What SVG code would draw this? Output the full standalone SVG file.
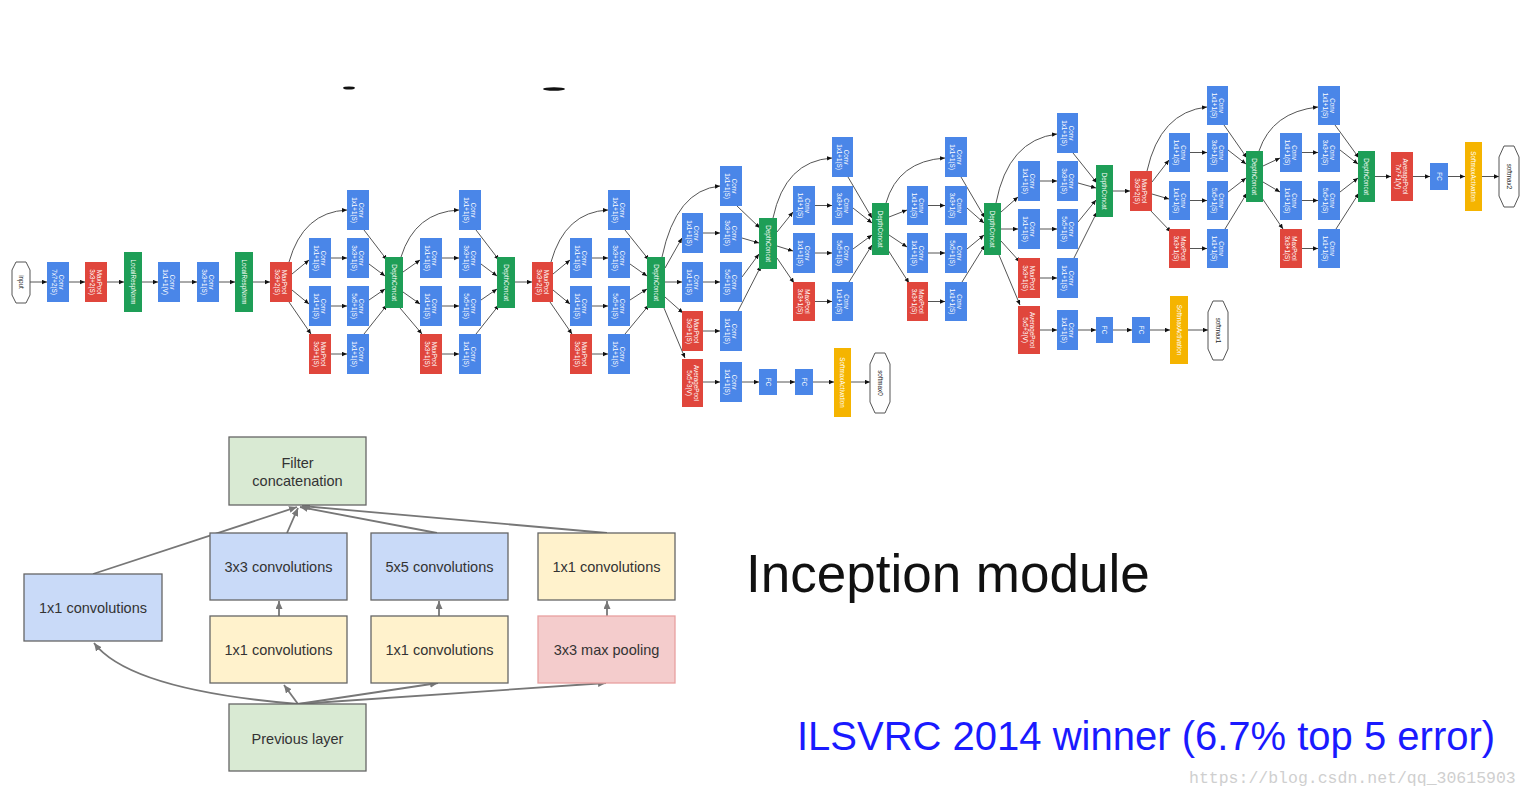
<svg xmlns="http://www.w3.org/2000/svg" width="1530" height="798" viewBox="0 0 1530 798">
<style>
.c{fill:#4a86e8}.m{fill:#e0463c}.d{fill:#1e9e57}.y{fill:#f5b400}
.o{fill:#fff;stroke:#555;stroke-width:1}
.t{font-family:"Liberation Sans",Arial,sans-serif;font-size:6.3px;fill:#fff;text-anchor:middle}
.k{font-family:"Liberation Sans",Arial,sans-serif;font-size:6.3px;fill:#222;text-anchor:middle}
.e path{fill:none;stroke:#555;stroke-width:1;marker-end:url(#a)}
.b rect{stroke:#666;stroke-width:1.3}
.bt{font-family:"Liberation Sans",Arial,sans-serif;font-size:14.5px;fill:#333;text-anchor:middle}
.g{fill:#d9ead3}.bl{fill:#c9daf8}.yl{fill:#fff2cc}.rd{fill:#f4cccc}
.f path{fill:none;stroke:#777;stroke-width:1.8;marker-end:url(#a2)}
</style>
<defs>
<marker id="a" markerUnits="userSpaceOnUse" markerWidth="6" markerHeight="5" refX="5" refY="2.2" orient="auto"><path d="M0,0 L5,2.2 L0,4.4 z" fill="#111"/></marker>
<marker id="a2" markerUnits="userSpaceOnUse" markerWidth="9" markerHeight="8" refX="8" refY="3.5" orient="auto"><path d="M0,0 L8,3.5 L0,7 z" fill="#777"/></marker>
</defs>
<rect width="1530" height="798" fill="#fff"/>
<ellipse cx="349" cy="88" rx="6" ry="1.6" fill="#111"/>
<ellipse cx="554" cy="89" rx="11" ry="1.8" fill="#111"/>

<g id="connectors" class="e">
<path d="M30,282 H47"/><path d="M69,282 H85"/><path d="M107,282 H124"/><path d="M142,282 H158"/><path d="M180,282 H197"/><path d="M219,282 H235"/><path d="M253,282 H270"/>
<!-- 3a -->
<path d="M289,262 Q303,212 347,210"/><path d="M292,274 L309,260"/><path d="M292,290 L309,304"/><path d="M289,302 L311,334"/>
<path d="M331,258 H347"/><path d="M331,306 H347"/><path d="M331,354 H347"/>
<path d="M364,230 L387,260"/><path d="M369,264 L385,276"/><path d="M369,300 L385,289"/><path d="M364,334 L387,305"/>
<!-- 3b -->
<path d="M401,257 Q415,212 459,210"/><path d="M403,272 L420,260"/><path d="M403,292 L420,304"/><path d="M400,308 L422,334"/>
<path d="M442,258 H459"/><path d="M442,306 H459"/><path d="M442,354 H459"/>
<path d="M476,230 L499,260"/><path d="M481,264 L497,276"/><path d="M481,300 L497,289"/><path d="M476,334 L499,305"/>
<path d="M515,282 H532"/>
<!-- 4a -->
<path d="M551,262 Q565,212 608,210"/><path d="M553,274 L570,260"/><path d="M553,290 L570,304"/><path d="M550,302 L572,334"/>
<path d="M592,258 H608"/><path d="M592,306 H608"/><path d="M592,354 H608"/>
<path d="M625,230 L649,260"/><path d="M630,264 L647,276"/><path d="M630,300 L647,289"/><path d="M625,334 L649,305"/>
<!-- 4b -->
<path d="M662,257 Q676,190 720,186"/><path d="M665,268 L682,238"/><path d="M665,282 H682"/><path d="M665,297 L683,313"/><path d="M664,308 L685,358"/>
<path d="M703,233 H720"/><path d="M703,282 H720"/><path d="M703,331 H720"/><path d="M703,382 H720"/>
<path d="M737,206 L760,228"/><path d="M742,238 L759,243"/><path d="M742,277 L759,254"/><path d="M738,311 L761,266"/>
<path d="M742,382 H759"/><path d="M777,382 H795"/><path d="M813,382 H834"/><path d="M851,382 H870"/>
<!-- 4c -->
<path d="M773,218 Q785,161 832,158"/><path d="M777,232 L793,212"/><path d="M777,246 L793,251"/><path d="M777,258 L794,283"/>
<path d="M815,205.5 H832"/><path d="M815,253 H832"/><path d="M815,301.5 H832"/>
<path d="M848,177 L872,218"/><path d="M853,208 L872,223"/><path d="M853,249 L872,235"/><path d="M849,282 L872,245"/>
<!-- 4d -->
<path d="M886,203 Q898,161 945,158"/><path d="M889,217 L907,210"/><path d="M889,235 L907,247"/><path d="M888,250 L909,283"/>
<path d="M928,205.5 H945"/><path d="M928,253 H945"/><path d="M928,301.5 H945"/>
<path d="M961,177 L985,218"/><path d="M967,208 L984,223"/><path d="M967,249 L984,235"/><path d="M962,282 L985,245"/>
<!-- 4e -->
<path d="M996,203 Q1008,140 1057,134"/><path d="M1001,212 L1018,197"/><path d="M1001,229 H1018"/><path d="M1001,241 L1020,262"/><path d="M999,255 L1020,305"/>
<path d="M1040,181 H1057"/><path d="M1040,229 H1057"/><path d="M1040,278 H1057"/><path d="M1040,330 H1057"/>
<path d="M1073,153 L1097,183"/><path d="M1078,183 L1096,188"/><path d="M1078,222 L1096,200"/><path d="M1074,258 L1097,212"/>
<path d="M1078,330 H1096"/><path d="M1113,330 H1132"/><path d="M1150,330 H1170"/><path d="M1188,330 H1208"/>
<path d="M1113,191 H1130"/>
<!-- 5a -->
<path d="M1147,171 Q1160,112 1207,107"/><path d="M1152,182 L1169,160"/><path d="M1152,194 L1169,199"/><path d="M1150,210 L1171,232"/>
<path d="M1190,152.5 H1207"/><path d="M1190,200.5 H1207"/><path d="M1190,248.5 H1207"/>
<path d="M1224,125 L1247,158"/><path d="M1228,150 L1246,164"/><path d="M1228,192 L1246,178"/><path d="M1225,229 L1247,193"/>
<!-- 5b -->
<path d="M1259,151 Q1272,112 1318,107"/><path d="M1263,166 L1280,158"/><path d="M1263,182 L1280,192"/><path d="M1262,198 L1283,229"/>
<path d="M1302,152.5 H1318"/><path d="M1302,200.5 H1318"/><path d="M1302,248.5 H1318"/>
<path d="M1335,125 L1359,158"/><path d="M1340,150 L1358,164"/><path d="M1340,192 L1358,178"/><path d="M1336,229 L1359,193"/>
<path d="M1375,176.5 H1391"/><path d="M1413,176.5 H1430"/><path d="M1448,176.5 H1465"/><path d="M1482,176.5 H1499"/>
</g>

<!-- stem -->
<g id="input"><polygon class="o" points="16,262 26,262 30,270 30,295 26,303 16,303 12,295 12,270"/><text class="k" transform="translate(21,282) rotate(90)" y="2.2">input</text></g>
<g id="conv1"><rect class="c" x="47" y="262" width="22" height="40"/><text class="t" transform="translate(58,282) rotate(90)"><tspan x="0" y="-1">Conv</tspan><tspan x="0" y="6">7x7+2(S)</tspan></text></g>
<g id="pool1"><rect class="m" x="85" y="262" width="22" height="40"/><text class="t" transform="translate(96,282) rotate(90)"><tspan x="0" y="-1">MaxPool</tspan><tspan x="0" y="6">3x3+2(S)</tspan></text></g>
<g id="lrn1"><rect class="d" x="124" y="252" width="18" height="60"/><text class="t" transform="translate(133,282) rotate(90)" y="2.2">LocalRespNorm</text></g>
<g id="conv2a"><rect class="c" x="158" y="262" width="22" height="40"/><text class="t" transform="translate(169,282) rotate(90)"><tspan x="0" y="-1">Conv</tspan><tspan x="0" y="6">1x1+1(V)</tspan></text></g>
<g id="conv2b"><rect class="c" x="197" y="262" width="22" height="40"/><text class="t" transform="translate(208,282) rotate(90)"><tspan x="0" y="-1">Conv</tspan><tspan x="0" y="6">3x3+1(S)</tspan></text></g>
<g id="lrn2"><rect class="d" x="235" y="252" width="18" height="60"/><text class="t" transform="translate(244,282) rotate(90)" y="2.2">LocalRespNorm</text></g>
<g id="pool2"><rect class="m" x="270" y="262" width="22" height="40"/><text class="t" transform="translate(281,282) rotate(90)"><tspan x="0" y="-1">MaxPool</tspan><tspan x="0" y="6">3x3+2(S)</tspan></text></g>

<!-- inception 3a -->
<g id="i3a-1"><rect class="c" x="347" y="190" width="22" height="40"/><text class="t" transform="translate(358,210) rotate(90)"><tspan x="0" y="-1">Conv</tspan><tspan x="0" y="6">1x1+1(S)</tspan></text></g>
<g id="i3a-2"><rect class="c" x="309" y="238" width="22" height="40"/><text class="t" transform="translate(320,258) rotate(90)"><tspan x="0" y="-1">Conv</tspan><tspan x="0" y="6">1x1+1(S)</tspan></text></g>
<g id="i3a-3"><rect class="c" x="347" y="238" width="22" height="40"/><text class="t" transform="translate(358,258) rotate(90)"><tspan x="0" y="-1">Conv</tspan><tspan x="0" y="6">3x3+1(S)</tspan></text></g>
<g id="i3a-4"><rect class="c" x="309" y="286" width="22" height="40"/><text class="t" transform="translate(320,306) rotate(90)"><tspan x="0" y="-1">Conv</tspan><tspan x="0" y="6">1x1+1(S)</tspan></text></g>
<g id="i3a-5"><rect class="c" x="347" y="286" width="22" height="40"/><text class="t" transform="translate(358,306) rotate(90)"><tspan x="0" y="-1">Conv</tspan><tspan x="0" y="6">5x5+1(S)</tspan></text></g>
<g id="i3a-6"><rect class="m" x="309" y="334" width="22" height="40"/><text class="t" transform="translate(320,354) rotate(90)"><tspan x="0" y="-1">MaxPool</tspan><tspan x="0" y="6">3x3+1(S)</tspan></text></g>
<g id="i3a-7"><rect class="c" x="347" y="334" width="22" height="40"/><text class="t" transform="translate(358,354) rotate(90)"><tspan x="0" y="-1">Conv</tspan><tspan x="0" y="6">1x1+1(S)</tspan></text></g>
<g id="dc3a"><rect class="d" x="385" y="257" width="18" height="51"/><text class="t" transform="translate(394,282.5) rotate(90)" y="2.2">DepthConcat</text></g>

<!-- inception 3b -->
<g id="i3b-1"><rect class="c" x="459" y="190" width="22" height="40"/><text class="t" transform="translate(470,210) rotate(90)"><tspan x="0" y="-1">Conv</tspan><tspan x="0" y="6">1x1+1(S)</tspan></text></g>
<g id="i3b-2"><rect class="c" x="420" y="238" width="22" height="40"/><text class="t" transform="translate(431,258) rotate(90)"><tspan x="0" y="-1">Conv</tspan><tspan x="0" y="6">1x1+1(S)</tspan></text></g>
<g id="i3b-3"><rect class="c" x="459" y="238" width="22" height="40"/><text class="t" transform="translate(470,258) rotate(90)"><tspan x="0" y="-1">Conv</tspan><tspan x="0" y="6">3x3+1(S)</tspan></text></g>
<g id="i3b-4"><rect class="c" x="420" y="286" width="22" height="40"/><text class="t" transform="translate(431,306) rotate(90)"><tspan x="0" y="-1">Conv</tspan><tspan x="0" y="6">1x1+1(S)</tspan></text></g>
<g id="i3b-5"><rect class="c" x="459" y="286" width="22" height="40"/><text class="t" transform="translate(470,306) rotate(90)"><tspan x="0" y="-1">Conv</tspan><tspan x="0" y="6">5x5+1(S)</tspan></text></g>
<g id="i3b-6"><rect class="m" x="420" y="334" width="22" height="40"/><text class="t" transform="translate(431,354) rotate(90)"><tspan x="0" y="-1">MaxPool</tspan><tspan x="0" y="6">3x3+1(S)</tspan></text></g>
<g id="i3b-7"><rect class="c" x="459" y="334" width="22" height="40"/><text class="t" transform="translate(470,354) rotate(90)"><tspan x="0" y="-1">Conv</tspan><tspan x="0" y="6">1x1+1(S)</tspan></text></g>
<g id="dc3b"><rect class="d" x="497" y="257" width="18" height="51"/><text class="t" transform="translate(506,282.5) rotate(90)" y="2.2">DepthConcat</text></g>
<g id="pool3"><rect class="m" x="532" y="262" width="21" height="40"/><text class="t" transform="translate(542.5,282) rotate(90)"><tspan x="0" y="-1">MaxPool</tspan><tspan x="0" y="6">3x3+2(S)</tspan></text></g>

<!-- inception 4a -->
<g id="i4a-1"><rect class="c" x="608" y="190" width="22" height="40"/><text class="t" transform="translate(619,210) rotate(90)"><tspan x="0" y="-1">Conv</tspan><tspan x="0" y="6">1x1+1(S)</tspan></text></g>
<g id="i4a-2"><rect class="c" x="570" y="238" width="22" height="40"/><text class="t" transform="translate(581,258) rotate(90)"><tspan x="0" y="-1">Conv</tspan><tspan x="0" y="6">1x1+1(S)</tspan></text></g>
<g id="i4a-3"><rect class="c" x="608" y="238" width="22" height="40"/><text class="t" transform="translate(619,258) rotate(90)"><tspan x="0" y="-1">Conv</tspan><tspan x="0" y="6">3x3+1(S)</tspan></text></g>
<g id="i4a-4"><rect class="c" x="570" y="286" width="22" height="40"/><text class="t" transform="translate(581,306) rotate(90)"><tspan x="0" y="-1">Conv</tspan><tspan x="0" y="6">1x1+1(S)</tspan></text></g>
<g id="i4a-5"><rect class="c" x="608" y="286" width="22" height="40"/><text class="t" transform="translate(619,306) rotate(90)"><tspan x="0" y="-1">Conv</tspan><tspan x="0" y="6">5x5+1(S)</tspan></text></g>
<g id="i4a-6"><rect class="m" x="570" y="334" width="22" height="40"/><text class="t" transform="translate(581,354) rotate(90)"><tspan x="0" y="-1">MaxPool</tspan><tspan x="0" y="6">3x3+1(S)</tspan></text></g>
<g id="i4a-7"><rect class="c" x="608" y="334" width="22" height="40"/><text class="t" transform="translate(619,354) rotate(90)"><tspan x="0" y="-1">Conv</tspan><tspan x="0" y="6">1x1+1(S)</tspan></text></g>
<g id="dc4a"><rect class="d" x="647" y="257" width="18" height="51"/><text class="t" transform="translate(656,282.5) rotate(90)" y="2.2">DepthConcat</text></g>

<!-- inception 4b -->
<g id="i4b-1"><rect class="c" x="720" y="166" width="22" height="40"/><text class="t" transform="translate(731,186) rotate(90)"><tspan x="0" y="-1">Conv</tspan><tspan x="0" y="6">1x1+1(S)</tspan></text></g>
<g id="i4b-2"><rect class="c" x="682" y="213" width="21" height="40"/><text class="t" transform="translate(692.5,233) rotate(90)"><tspan x="0" y="-1">Conv</tspan><tspan x="0" y="6">1x1+1(S)</tspan></text></g>
<g id="i4b-3"><rect class="c" x="720" y="213" width="22" height="40"/><text class="t" transform="translate(731,233) rotate(90)"><tspan x="0" y="-1">Conv</tspan><tspan x="0" y="6">3x3+1(S)</tspan></text></g>
<g id="i4b-4"><rect class="c" x="682" y="262" width="21" height="40"/><text class="t" transform="translate(692.5,282) rotate(90)"><tspan x="0" y="-1">Conv</tspan><tspan x="0" y="6">1x1+1(S)</tspan></text></g>
<g id="i4b-5"><rect class="c" x="720" y="262" width="22" height="40"/><text class="t" transform="translate(731,282) rotate(90)"><tspan x="0" y="-1">Conv</tspan><tspan x="0" y="6">5x5+1(S)</tspan></text></g>
<g id="i4b-6"><rect class="m" x="682" y="311" width="21" height="40"/><text class="t" transform="translate(692.5,331) rotate(90)"><tspan x="0" y="-1">MaxPool</tspan><tspan x="0" y="6">3x3+1(S)</tspan></text></g>
<g id="i4b-7"><rect class="c" x="720" y="311" width="22" height="40"/><text class="t" transform="translate(731,331) rotate(90)"><tspan x="0" y="-1">Conv</tspan><tspan x="0" y="6">1x1+1(S)</tspan></text></g>
<g id="i4b-avg"><rect class="m" x="682" y="359" width="21" height="48"/><text class="t" transform="translate(692.5,383) rotate(90)"><tspan x="0" y="-1">AveragePool</tspan><tspan x="0" y="6">5x5+3(V)</tspan></text></g>
<g id="dc4b"><rect class="d" x="759" y="218" width="18" height="51"/><text class="t" transform="translate(768,243.5) rotate(90)" y="2.2">DepthConcat</text></g>
<g id="aux0-conv"><rect class="c" x="720" y="362" width="22" height="40"/><text class="t" transform="translate(731,382) rotate(90)"><tspan x="0" y="-1">Conv</tspan><tspan x="0" y="6">1x1+1(S)</tspan></text></g>
<g id="aux0-fc1"><rect class="c" x="759" y="369" width="18" height="26"/><text class="t" transform="translate(768,382) rotate(90)" y="2.2">FC</text></g>
<g id="aux0-fc2"><rect class="c" x="795" y="369" width="18" height="26"/><text class="t" transform="translate(804,382) rotate(90)" y="2.2">FC</text></g>
<g id="aux0-sm"><rect class="y" x="834" y="348" width="17" height="69"/><text class="t" transform="translate(842.5,382.5) rotate(90)" y="2.2">SoftmaxActivation</text></g>
<g id="softmax0"><polygon class="o" points="875,353 885,353 890,364 890,402 885,413 875,413 870,402 870,364"/><text class="k" transform="translate(880,383) rotate(90)" y="2.2">softmax0</text></g>

<!-- inception 4c -->
<g id="i4c-1"><rect class="c" x="832" y="137" width="21" height="40"/><text class="t" transform="translate(842.5,157) rotate(90)"><tspan x="0" y="-1">Conv</tspan><tspan x="0" y="6">1x1+1(S)</tspan></text></g>
<g id="i4c-2"><rect class="c" x="793" y="186" width="22" height="39"/><text class="t" transform="translate(804,205.5) rotate(90)"><tspan x="0" y="-1">Conv</tspan><tspan x="0" y="6">1x1+1(S)</tspan></text></g>
<g id="i4c-3"><rect class="c" x="832" y="186" width="21" height="39"/><text class="t" transform="translate(842.5,205.5) rotate(90)"><tspan x="0" y="-1">Conv</tspan><tspan x="0" y="6">3x3+1(S)</tspan></text></g>
<g id="i4c-4"><rect class="c" x="793" y="233" width="22" height="40"/><text class="t" transform="translate(804,253) rotate(90)"><tspan x="0" y="-1">Conv</tspan><tspan x="0" y="6">1x1+1(S)</tspan></text></g>
<g id="i4c-5"><rect class="c" x="832" y="233" width="21" height="40"/><text class="t" transform="translate(842.5,253) rotate(90)"><tspan x="0" y="-1">Conv</tspan><tspan x="0" y="6">5x5+1(S)</tspan></text></g>
<g id="i4c-6"><rect class="m" x="793" y="282" width="22" height="39"/><text class="t" transform="translate(804,301.5) rotate(90)"><tspan x="0" y="-1">MaxPool</tspan><tspan x="0" y="6">3x3+1(S)</tspan></text></g>
<g id="i4c-7"><rect class="c" x="832" y="282" width="21" height="39"/><text class="t" transform="translate(842.5,301.5) rotate(90)"><tspan x="0" y="-1">Conv</tspan><tspan x="0" y="6">1x1+1(S)</tspan></text></g>
<g id="dc4c"><rect class="d" x="872" y="203" width="17" height="52"/><text class="t" transform="translate(880.5,229) rotate(90)" y="2.2">DepthConcat</text></g>

<!-- inception 4d -->
<g id="i4d-1"><rect class="c" x="945" y="137" width="22" height="40"/><text class="t" transform="translate(956,157) rotate(90)"><tspan x="0" y="-1">Conv</tspan><tspan x="0" y="6">1x1+1(S)</tspan></text></g>
<g id="i4d-2"><rect class="c" x="907" y="186" width="21" height="39"/><text class="t" transform="translate(917.5,205.5) rotate(90)"><tspan x="0" y="-1">Conv</tspan><tspan x="0" y="6">1x1+1(S)</tspan></text></g>
<g id="i4d-3"><rect class="c" x="945" y="186" width="22" height="39"/><text class="t" transform="translate(956,205.5) rotate(90)"><tspan x="0" y="-1">Conv</tspan><tspan x="0" y="6">3x3+1(S)</tspan></text></g>
<g id="i4d-4"><rect class="c" x="907" y="233" width="21" height="40"/><text class="t" transform="translate(917.5,253) rotate(90)"><tspan x="0" y="-1">Conv</tspan><tspan x="0" y="6">1x1+1(S)</tspan></text></g>
<g id="i4d-5"><rect class="c" x="945" y="233" width="22" height="40"/><text class="t" transform="translate(956,253) rotate(90)"><tspan x="0" y="-1">Conv</tspan><tspan x="0" y="6">5x5+1(S)</tspan></text></g>
<g id="i4d-6"><rect class="m" x="907" y="282" width="21" height="39"/><text class="t" transform="translate(917.5,301.5) rotate(90)"><tspan x="0" y="-1">MaxPool</tspan><tspan x="0" y="6">3x3+1(S)</tspan></text></g>
<g id="i4d-7"><rect class="c" x="945" y="282" width="22" height="39"/><text class="t" transform="translate(956,301.5) rotate(90)"><tspan x="0" y="-1">Conv</tspan><tspan x="0" y="6">1x1+1(S)</tspan></text></g>
<g id="dc4d"><rect class="d" x="984" y="203" width="17" height="52"/><text class="t" transform="translate(992.5,229) rotate(90)" y="2.2">DepthConcat</text></g>

<!-- inception 4e -->
<g id="i4e-1"><rect class="c" x="1057" y="113" width="21" height="40"/><text class="t" transform="translate(1067.5,133) rotate(90)"><tspan x="0" y="-1">Conv</tspan><tspan x="0" y="6">1x1+1(S)</tspan></text></g>
<g id="i4e-2"><rect class="c" x="1018" y="161" width="22" height="40"/><text class="t" transform="translate(1029,181) rotate(90)"><tspan x="0" y="-1">Conv</tspan><tspan x="0" y="6">1x1+1(S)</tspan></text></g>
<g id="i4e-3"><rect class="c" x="1057" y="161" width="21" height="40"/><text class="t" transform="translate(1067.5,181) rotate(90)"><tspan x="0" y="-1">Conv</tspan><tspan x="0" y="6">3x3+1(S)</tspan></text></g>
<g id="i4e-4"><rect class="c" x="1018" y="209" width="22" height="40"/><text class="t" transform="translate(1029,229) rotate(90)"><tspan x="0" y="-1">Conv</tspan><tspan x="0" y="6">1x1+1(S)</tspan></text></g>
<g id="i4e-5"><rect class="c" x="1057" y="209" width="21" height="40"/><text class="t" transform="translate(1067.5,229) rotate(90)"><tspan x="0" y="-1">Conv</tspan><tspan x="0" y="6">5x5+1(S)</tspan></text></g>
<g id="i4e-6"><rect class="m" x="1018" y="258" width="22" height="40"/><text class="t" transform="translate(1029,278) rotate(90)"><tspan x="0" y="-1">MaxPool</tspan><tspan x="0" y="6">3x3+1(S)</tspan></text></g>
<g id="i4e-7"><rect class="c" x="1057" y="258" width="21" height="40"/><text class="t" transform="translate(1067.5,278) rotate(90)"><tspan x="0" y="-1">Conv</tspan><tspan x="0" y="6">1x1+1(S)</tspan></text></g>
<g id="i4e-avg"><rect class="m" x="1018" y="306" width="22" height="48"/><text class="t" transform="translate(1029,330) rotate(90)"><tspan x="0" y="-1">AveragePool</tspan><tspan x="0" y="6">5x5+3(V)</tspan></text></g>
<g id="dc4e"><rect class="d" x="1096" y="165" width="17" height="52"/><text class="t" transform="translate(1104.5,191) rotate(90)" y="2.2">DepthConcat</text></g>
<g id="aux1-conv"><rect class="c" x="1057" y="310" width="21" height="40"/><text class="t" transform="translate(1067.5,330) rotate(90)"><tspan x="0" y="-1">Conv</tspan><tspan x="0" y="6">1x1+1(S)</tspan></text></g>
<g id="aux1-fc1"><rect class="c" x="1096" y="317" width="17" height="26"/><text class="t" transform="translate(1104.5,330) rotate(90)" y="2.2">FC</text></g>
<g id="aux1-fc2"><rect class="c" x="1132" y="317" width="18" height="26"/><text class="t" transform="translate(1141,330) rotate(90)" y="2.2">FC</text></g>
<g id="aux1-sm"><rect class="y" x="1170" y="296" width="18" height="68"/><text class="t" transform="translate(1179,330) rotate(90)" y="2.2">SoftmaxActivation</text></g>
<g id="softmax1"><polygon class="o" points="1213,301 1223,301 1228,312 1228,349 1223,360 1213,360 1208,349 1208,312"/><text class="k" transform="translate(1218,330.5) rotate(90)" y="2.2">softmax1</text></g>
<g id="pool4"><rect class="m" x="1130" y="171" width="22" height="40"/><text class="t" transform="translate(1141,191) rotate(90)"><tspan x="0" y="-1">MaxPool</tspan><tspan x="0" y="6">3x3+2(S)</tspan></text></g>

<!-- inception 5a -->
<g id="i5a-1"><rect class="c" x="1207" y="86" width="21" height="39"/><text class="t" transform="translate(1217.5,105.5) rotate(90)"><tspan x="0" y="-1">Conv</tspan><tspan x="0" y="6">1x1+1(S)</tspan></text></g>
<g id="i5a-2"><rect class="c" x="1169" y="133" width="21" height="39"/><text class="t" transform="translate(1179.5,152.5) rotate(90)"><tspan x="0" y="-1">Conv</tspan><tspan x="0" y="6">1x1+1(S)</tspan></text></g>
<g id="i5a-3"><rect class="c" x="1207" y="133" width="21" height="39"/><text class="t" transform="translate(1217.5,152.5) rotate(90)"><tspan x="0" y="-1">Conv</tspan><tspan x="0" y="6">3x3+1(S)</tspan></text></g>
<g id="i5a-4"><rect class="c" x="1169" y="181" width="21" height="39"/><text class="t" transform="translate(1179.5,200.5) rotate(90)"><tspan x="0" y="-1">Conv</tspan><tspan x="0" y="6">1x1+1(S)</tspan></text></g>
<g id="i5a-5"><rect class="c" x="1207" y="181" width="21" height="39"/><text class="t" transform="translate(1217.5,200.5) rotate(90)"><tspan x="0" y="-1">Conv</tspan><tspan x="0" y="6">5x5+1(S)</tspan></text></g>
<g id="i5a-6"><rect class="m" x="1169" y="229" width="21" height="39"/><text class="t" transform="translate(1179.5,248.5) rotate(90)"><tspan x="0" y="-1">MaxPool</tspan><tspan x="0" y="6">3x3+1(S)</tspan></text></g>
<g id="i5a-7"><rect class="c" x="1207" y="229" width="21" height="39"/><text class="t" transform="translate(1217.5,248.5) rotate(90)"><tspan x="0" y="-1">Conv</tspan><tspan x="0" y="6">1x1+1(S)</tspan></text></g>
<g id="dc5a"><rect class="d" x="1246" y="151" width="17" height="51"/><text class="t" transform="translate(1254.5,176.5) rotate(90)" y="2.2">DepthConcat</text></g>

<!-- inception 5b -->
<g id="i5b-1"><rect class="c" x="1318" y="86" width="22" height="39"/><text class="t" transform="translate(1329,105.5) rotate(90)"><tspan x="0" y="-1">Conv</tspan><tspan x="0" y="6">1x1+1(S)</tspan></text></g>
<g id="i5b-2"><rect class="c" x="1280" y="133" width="22" height="39"/><text class="t" transform="translate(1291,152.5) rotate(90)"><tspan x="0" y="-1">Conv</tspan><tspan x="0" y="6">1x1+1(S)</tspan></text></g>
<g id="i5b-3"><rect class="c" x="1318" y="133" width="22" height="39"/><text class="t" transform="translate(1329,152.5) rotate(90)"><tspan x="0" y="-1">Conv</tspan><tspan x="0" y="6">3x3+1(S)</tspan></text></g>
<g id="i5b-4"><rect class="c" x="1280" y="181" width="22" height="39"/><text class="t" transform="translate(1291,200.5) rotate(90)"><tspan x="0" y="-1">Conv</tspan><tspan x="0" y="6">1x1+1(S)</tspan></text></g>
<g id="i5b-5"><rect class="c" x="1318" y="181" width="22" height="39"/><text class="t" transform="translate(1329,200.5) rotate(90)"><tspan x="0" y="-1">Conv</tspan><tspan x="0" y="6">5x5+1(S)</tspan></text></g>
<g id="i5b-6"><rect class="m" x="1280" y="229" width="22" height="39"/><text class="t" transform="translate(1291,248.5) rotate(90)"><tspan x="0" y="-1">MaxPool</tspan><tspan x="0" y="6">3x3+1(S)</tspan></text></g>
<g id="i5b-7"><rect class="c" x="1318" y="229" width="22" height="39"/><text class="t" transform="translate(1329,248.5) rotate(90)"><tspan x="0" y="-1">Conv</tspan><tspan x="0" y="6">1x1+1(S)</tspan></text></g>
<g id="dc5b"><rect class="d" x="1358" y="151" width="17" height="51"/><text class="t" transform="translate(1366.5,176.5) rotate(90)" y="2.2">DepthConcat</text></g>
<g id="avgpool"><rect class="m" x="1391" y="152" width="22" height="49"/><text class="t" transform="translate(1402,176.5) rotate(90)"><tspan x="0" y="-1">AveragePool</tspan><tspan x="0" y="6">7x7+1(V)</tspan></text></g>
<g id="fc"><rect class="c" x="1430" y="163" width="18" height="27"/><text class="t" transform="translate(1439,176.5) rotate(90)" y="2.2">FC</text></g>
<g id="sm2"><rect class="y" x="1465" y="142" width="17" height="69"/><text class="t" transform="translate(1473.5,176.5) rotate(90)" y="2.2">SoftmaxActivation</text></g>
<g id="softmax2"><polygon class="o" points="1504,146 1514,146 1519,157 1519,196 1514,207 1504,207 1499,196 1499,157"/><text class="k" transform="translate(1509,176.5) rotate(90)" y="2.2">softmax2</text></g>

<!-- Inception module diagram -->
<g id="module-connectors" class="f">
<path d="M93,574 L297,507"/>
<path d="M287,533 L298,508"/>
<path d="M437,533 L300,507"/>
<path d="M607,533 L302,506"/>
<path d="M279,616 L279,601"/>
<path d="M439,616 L439,601"/>
<path d="M607,616 L607,601"/>
<path d="M298,704 Q130,690 94,643"/>
<path d="M298,704 L284,685"/>
<path d="M298,704 L438,683"/>
<path d="M298,704 L606,683"/>
</g>
<g id="m-filter" class="b"><rect class="g" x="229" y="437" width="137" height="68"/><text class="bt" x="297.5" y="468">Filter</text><text class="bt" x="297.5" y="486">concatenation</text></g>
<g id="m-3x3" class="b"><rect class="bl" x="210" y="533" width="137" height="67"/><text class="bt" x="278.5" y="572">3x3 convolutions</text></g>
<g id="m-5x5" class="b"><rect class="bl" x="371" y="533" width="137" height="67"/><text class="bt" x="439.5" y="572">5x5 convolutions</text></g>
<g id="m-1x1r" class="b"><rect class="yl" x="538" y="533" width="137" height="67"/><text class="bt" x="606.5" y="572">1x1 convolutions</text></g>
<g id="m-1x1l" class="b"><rect class="bl" x="24" y="574" width="138" height="67"/><text class="bt" x="93" y="613">1x1 convolutions</text></g>
<g id="m-1x1a" class="b"><rect class="yl" x="210" y="616" width="137" height="67"/><text class="bt" x="278.5" y="655">1x1 convolutions</text></g>
<g id="m-1x1b" class="b"><rect class="yl" x="371" y="616" width="137" height="67"/><text class="bt" x="439.5" y="655">1x1 convolutions</text></g>
<g id="m-pool"><rect class="rd" x="538" y="616" width="137" height="67" stroke="#e8a0a0" stroke-width="1.3"/><text class="bt" x="606.5" y="655">3x3 max pooling</text></g>
<g id="m-prev" class="b"><rect class="g" x="229" y="704" width="137" height="67"/><text class="bt" x="297.5" y="744">Previous layer</text></g>

<text x="746" y="592" font-family="Liberation Sans, Arial, sans-serif" font-size="53" fill="#111">Inception module</text>
<text x="797" y="750" font-family="Liberation Sans, Arial, sans-serif" font-size="40" fill="#1a1aff">ILSVRC 2014 winner (6.7% top 5 error)</text>
<text x="1189" y="783" font-family="Liberation Mono, monospace" font-size="16.5" fill="#cfcfcf">https://blog.csdn.net/qq_30615903</text>
</svg>
